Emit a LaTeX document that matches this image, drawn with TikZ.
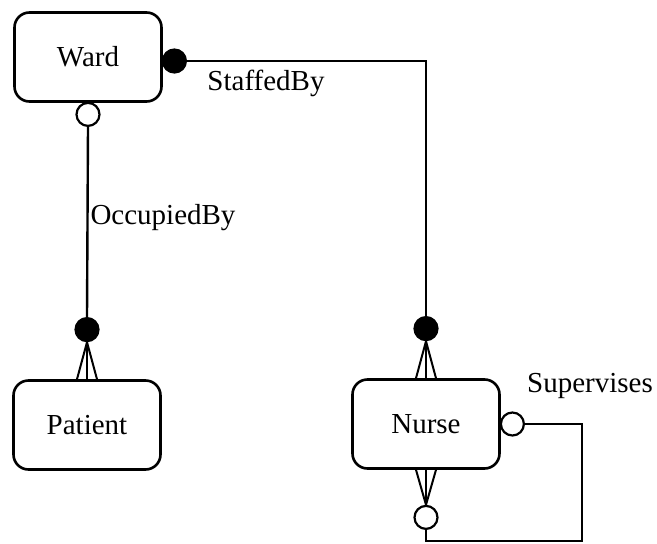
\documentclass[tikz,border=0pt]{standalone}
\usepackage{fontspec}
\setmainfont{Liberation Serif}
\usetikzlibrary{positioning}

\begin{document}
\begin{tikzpicture}[
        x=1pt, y=-1pt,
        font=\fontsize{29}{34}\selectfont,
        entity/.style={draw, line width=2.6pt, rectangle, rounded corners=15pt, minimum width=147pt, minimum height=89pt, inner sep=0pt},
        mandatory/.style={circle, draw, fill=black, line width=2.2pt, minimum size=23pt, inner sep=0pt},
        optional/.style={circle, draw, fill=white, line width=2.2pt, minimum size=23pt, inner sep=0pt},
        link/.style={line width=2.4pt},
        foot/.style={line width=2pt},
        rel/.style={inner sep=0pt},
    ]
    \useasboundingbox (0,0) rectangle (657,544);

    % Entities
    \node[entity] (ward) at (88,57) {Ward};
    \node[entity] (patient) at (87,425) {Patient};
    \node[entity] (nurse) at (426,424) {Nurse};

    % Participation circles
    \node[mandatory, right=-1pt of ward, yshift=-4pt] (wardStaff) {};
    \node[optional, below=-1pt of ward] (wardOcc) {};
    \node[mandatory, above=37pt of patient] (patOcc) {};
    \node[mandatory, above=37pt of nurse] (nurStaff) {};
    \node[optional, right=-1pt of nurse] (nurSupR) {};
    \node[optional, below=35pt of nurse] (nurSupB) {};
    \coordinate (loopCorner) at (582,541);

    % Relationship names
    \node[rel] (staffedBy) at (266,83) {StaffedBy};
    \node[rel] (occupiedBy) at (163,218) {OccupiedBy};
    \node[rel] (supervises) at (590,386) {Supervises};

    % Links
    \draw[link] (wardStaff.east) -| (nurStaff.north);
    \draw[link] (wardOcc.south) -- (patOcc.north);
    \draw[link] (nurSupR.east) -| (loopCorner) -| (nurSupB.south);

    % Crow's feet
    \foreach \dx in {-10,0,10} {
        \draw[foot] (patOcc.south) -- ([xshift=\dx]patient.north);
        \draw[foot] (nurStaff.south) -- ([xshift=\dx]nurse.north);
        \draw[foot] (nurSupB.north) -- ([xshift=\dx]nurse.south);
    }

    \end{tikzpicture}
\end{document}
